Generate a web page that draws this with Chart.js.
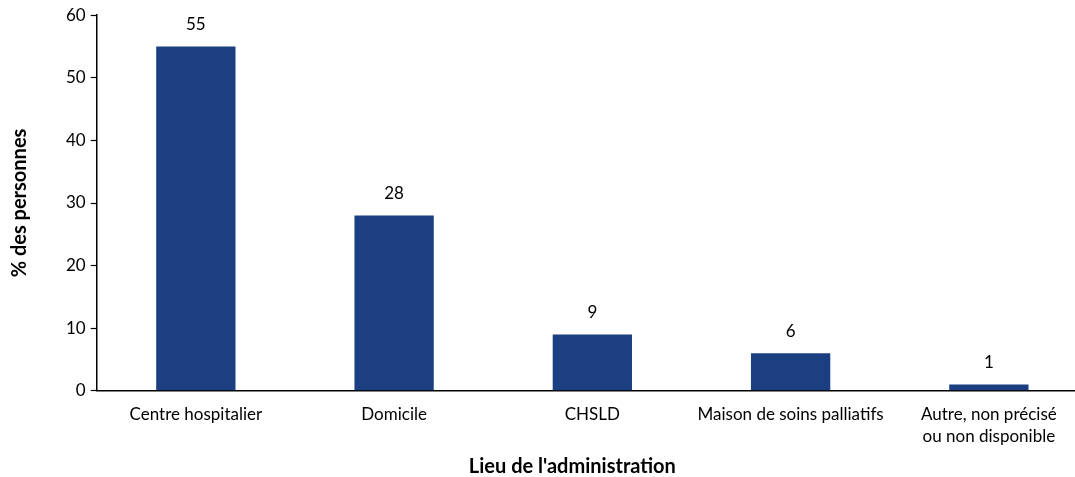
<!DOCTYPE html>
<html><head><meta charset="utf-8">
<script src="https://cdn.jsdelivr.net/npm/chart.js@4.4.1/dist/chart.umd.min.js"></script>
<style>
html,body{margin:0;padding:0;background:#fff;overflow:hidden;}
#wrap{position:relative;width:1088px;height:477px;}
</style></head>
<body>
<div id="wrap"><canvas id="c"></canvas></div>
<script>
const categories = ["Centre hospitalier", "Domicile", "CHSLD", "Maison de soins palliatifs", ["Autre, non précisé", "ou non disponible"]];
const values = [55, 28, 9, 6, 1];
const yTicks = [0, 10, 20, 30, 40, 50, 60];
const yTitle = "% des personnes";
const xTitle = "Lieu de l'administration";

const FONT = "Lato, 'Open Sans', sans-serif";

const valueLabels = {
  id: 'valueLabels',
  afterDatasetsDraw(chart) {
    const ctx = chart.ctx;
    const meta = chart.getDatasetMeta(0);
    ctx.save();
    ctx.font = "17px " + FONT;
    ctx.fillStyle = "#000";
    ctx.textAlign = "center";
    ctx.textBaseline = "middle";
    meta.data.forEach((bar, i) => {
      ctx.fillText(String(values[i]), bar.x, bar.y - 22);
    });
    // x axis title, placed slightly left of the plot centre as in the original
    const xs = chart.scales.x;
    ctx.font = "bold 20px " + FONT;
    ctx.fillText(xTitle, (chart.chartArea.left + chart.chartArea.right) / 2 - 20, xs.bottom + 6);
    ctx.restore();
  }
};

new Chart(document.getElementById('c'), {
  type: 'bar',
  data: {
    labels: categories,
    datasets: [{
      data: values,
      backgroundColor: '#1B3F80',
      borderWidth: 0,
      categoryPercentage: 1,
      barPercentage: 0.4
    }]
  },
  options: {
    responsive: true,
    maintainAspectRatio: false,
    animation: false,
    layout: { padding: { top: 6, right: 0, left: 4, bottom: 16 } },
    plugins: { legend: { display: false }, tooltip: { enabled: false } },
    scales: {
      x: {
        grid: { display: false, drawTicks: false },
        border: { display: true, color: '#000', width: 1.5 },
        ticks: { color: '#000', font: { family: FONT, size: 17, lineHeight: 1.3 }, padding: 13, maxRotation: 0, autoSkip: false },
        title: { display: false }
      },
      y: {
        min: 0, max: 60,
        afterBuildTicks(axis) { axis.ticks = yTicks.map(v => ({ value: v })); },
        grid: { display: true, drawOnChartArea: false, drawTicks: true, tickLength: 6, color: '#000', tickWidth: 1.2 },
        border: { display: true, color: '#000', width: 1.5 },
        ticks: { color: '#000', font: { family: FONT, size: 17 }, padding: 5 },
        title: { display: true, text: yTitle, color: '#000', font: { family: FONT, size: 20, weight: 'bold' }, padding: { bottom: 29 } }
      }
    }
  },
  plugins: [valueLabels]
});
</script>
</body></html>
